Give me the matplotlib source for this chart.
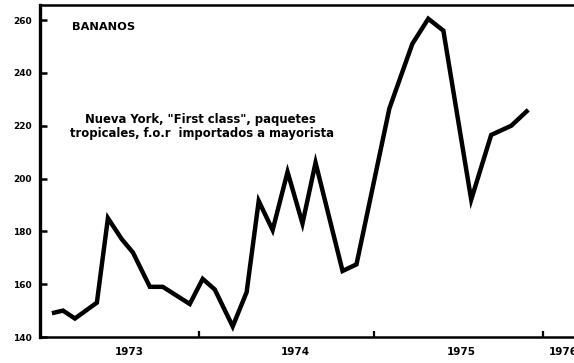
import numpy as np
import matplotlib.pyplot as plt

# monthly wholesale price, bananas (decimal year, value)
fechas = [1973.071, 1973.137, 1973.208, 1973.339, 1973.405, 1973.488, 1973.554,
          1973.655, 1973.732, 1973.893, 1973.970, 1974.042, 1974.149, 1974.232,
          1974.304, 1974.387, 1974.476, 1974.565, 1974.643, 1974.804, 1974.887,
          1975.083, 1975.220, 1975.315, 1975.405, 1975.571, 1975.690, 1975.810,
          1975.911]
precios = [149, 150, 147, 153, 185, 177, 172,
           159, 159, 152.5, 162, 158, 144, 157,
           191.5, 180.5, 202.5, 183, 206, 165, 167.5,
           226.5, 251, 260.5, 256, 192, 216.5, 220,
           226]

y_ticks = [140, 160, 180, 200, 220, 240, 260]
x_label_pos = [1973.53, 1974.52, 1975.51, 1976.12]
x_labels = ['1973', '1974', '1975', '1976']
year_ticks = [1973.95, 1974.99, 1976.0]

fig = plt.figure(figsize=(5.74, 3.63), dpi=100)
ax = fig.add_axes([0.0697, 0.0716, 0.935, 0.9146])

ax.plot(fechas, precios, color='black', lw=3.2, solid_joinstyle='miter',
        solid_capstyle='butt')

ax.set_xlim(1973.0, 1976.2)
ax.set_ylim(140, 265.7)

ax.spines['right'].set_visible(False)
ax.spines['left'].set_linewidth(2.4)
ax.spines['bottom'].set_linewidth(1.8)
ax.spines['top'].set_linewidth(1.8)

ax.set_yticks(y_ticks)
ax.set_yticklabels([str(v) for v in y_ticks], fontsize=6.5, fontweight='bold')
ax.tick_params(axis='y', direction='in', length=5, width=1.8, pad=6)

ax.set_xticks(year_ticks)
ax.set_xticklabels([])
ax.tick_params(axis='x', direction='in', length=4, width=1.6)
for pos, lab in zip(x_label_pos, x_labels):
    ax.text(pos, -0.046, lab, transform=ax.get_xaxis_transform(),
            ha='center', va='center', fontsize=7.5, fontweight='bold')

ax.text(72 / 574, 0.925, 'BANANOS', transform=fig.transFigure,
        ha='left', va='center', fontsize=8.2, fontweight='bold')
ax.text(200 / 574, 1 - 119 / 363, 'Nueva York, "First class", paquetes',
        transform=fig.transFigure, ha='center', va='center',
        fontsize=8.4, fontweight='bold')
ax.text(202 / 574, 1 - 133 / 363, 'tropicales, f.o.r  importados a mayorista',
        transform=fig.transFigure, ha='center', va='center',
        fontsize=8.4, fontweight='bold')

fig.savefig('out.png', dpi=100)
